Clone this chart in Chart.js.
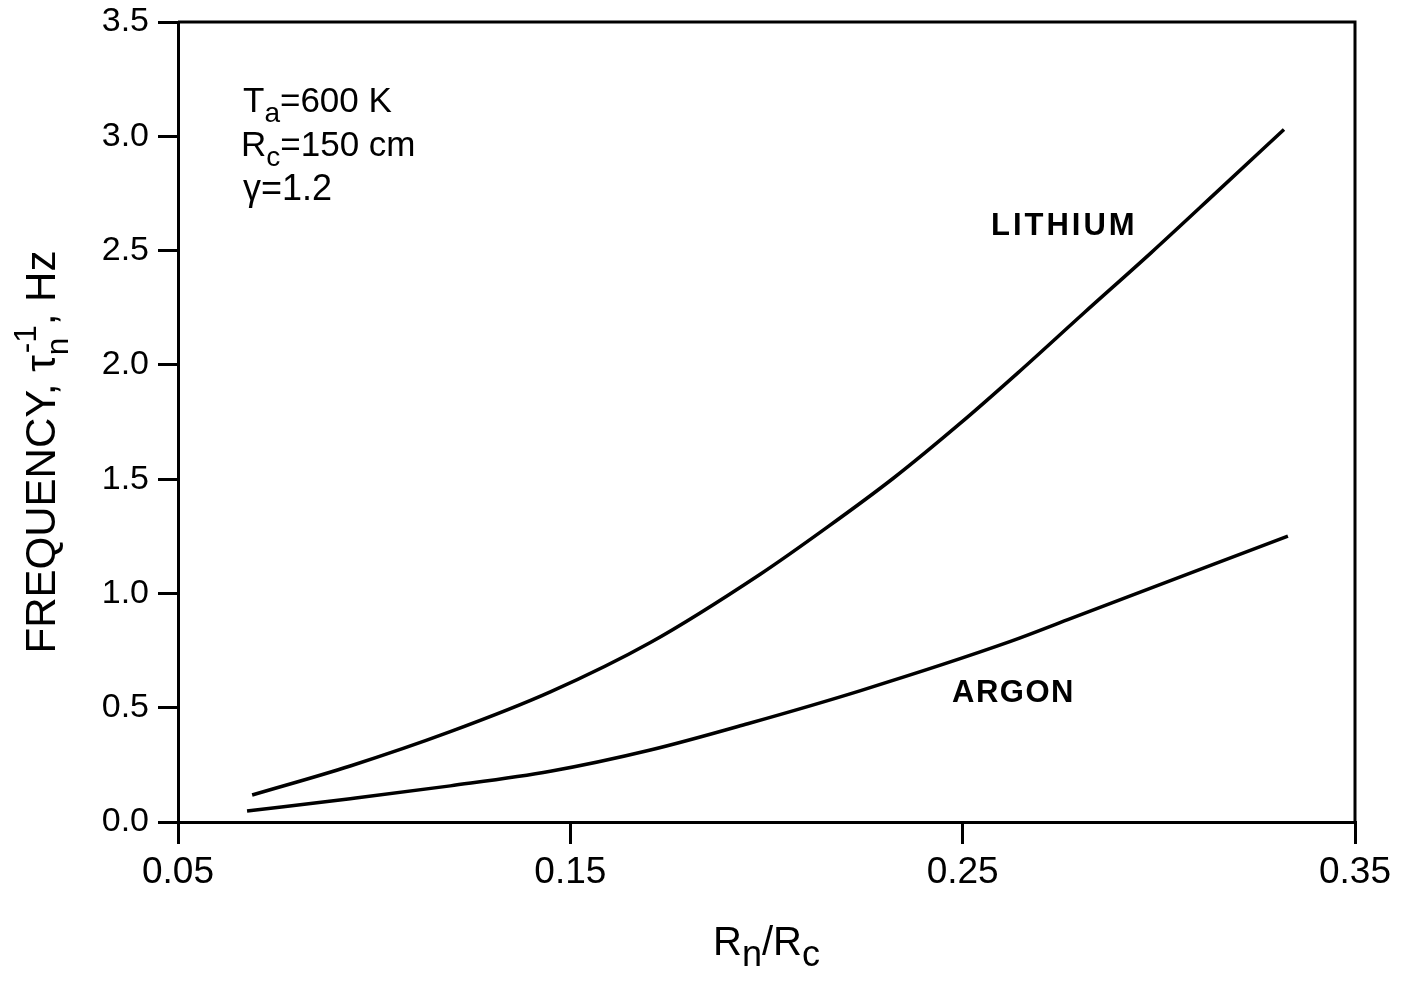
<!DOCTYPE html>
<html>
<head>
<meta charset="utf-8">
<script src="https://cdn.jsdelivr.net/npm/chart.js@4.4.1/dist/chart.umd.min.js"></script>
<style>
  html, body { margin: 0; padding: 0; background: #fff; }
</style>
</head>
<body>
<canvas id="chart" width="1419" height="983"></canvas>
<script>
// values
const lithiumX = [0.0689, 0.0939, 0.1194, 0.1449, 0.1704, 0.1985, 0.2156, 0.2324, 0.2495, 0.2640, 0.2809, 0.2980, 0.3150, 0.3319];
const lithiumY = [0.118, 0.245, 0.395, 0.569, 0.785, 1.085, 1.291, 1.505, 1.746, 1.964, 2.227, 2.490, 2.760, 3.030];
const argonX = [0.0676, 0.0939, 0.1194, 0.1449, 0.1704, 0.1952, 0.2240, 0.2622, 0.2768, 0.3329];
const argonY = [0.048, 0.102, 0.158, 0.222, 0.315, 0.430, 0.575, 0.790, 0.885, 1.251];
const xTicks = [0.05, 0.15, 0.25, 0.35];
const yTicks = [0, 0.5, 1.0, 1.5, 2.0, 2.5, 3.0, 3.5];

const FONT = '"Liberation Sans", Arial, sans-serif';

const toPoints = (xs, ys) => xs.map((x, i) => ({ x: x, y: ys[i] }));

// draw text made of pieces, some of them sub/superscript
function drawPieces(ctx, pieces, x, y, size, small) {
    const s = small || 0.7;
    let cx = x;
    let i = 0;
    while (i < pieces.length) {
        const p = pieces[i];
        if (p.sub && pieces[i + 1] && pieces[i + 1].sup) {
            ctx.font = `${size * s}px ${FONT}`;
            ctx.fillText(p.t, cx, y + size * 0.3);
            const w1 = ctx.measureText(p.t).width;
            ctx.fillText(pieces[i + 1].t, cx + 2, y - size * 0.45);
            const w2 = ctx.measureText(pieces[i + 1].t).width + 2;
            cx += Math.max(w1, w2);
            i += 2;
            continue;
        }
        if (p.sub) {
            ctx.font = `${size * s}px ${FONT}`;
            ctx.fillText(p.t, cx, y + size * 0.28);
        } else if (p.sup) {
            ctx.font = `${size * s}px ${FONT}`;
            ctx.fillText(p.t, cx, y - size * 0.45);
        } else {
            ctx.font = `${size}px ${FONT}`;
            ctx.fillText(p.t, cx, y);
        }
        cx += ctx.measureText(p.t).width;
        i++;
    }
    return cx - x;
}

function piecesWidth(ctx, pieces, size, small) {
    ctx.save();
    ctx.globalAlpha = 0;
    const w = drawPieces(ctx, pieces, 0, 0, size, small);
    ctx.restore();
    return w;
}

const textPlugin = {
    id: 'texts',
    beforeDraw(chart) {
        const ctx = chart.ctx;
        ctx.save();
        ctx.fillStyle = '#fff';
        ctx.fillRect(0, 0, chart.width, chart.height);
        ctx.restore();
    },
    afterDraw(chart) {
        const ctx = chart.ctx;
        const area = chart.chartArea;
        ctx.save();
        ctx.fillStyle = '#000';
        ctx.textBaseline = 'alphabetic';
        ctx.textAlign = 'left';

        // frame top and right
        ctx.strokeStyle = '#000';
        ctx.lineWidth = 3;
        ctx.beginPath();
        ctx.moveTo(area.left, area.top);
        ctx.lineTo(area.right, area.top);
        ctx.lineTo(area.right, area.bottom);
        ctx.stroke();

        // parameters box
        drawPieces(ctx, [{ t: 'T' }, { t: 'a', sub: true }, { t: '=600 K' }], 243, 112, 35, 0.8);
        drawPieces(ctx, [{ t: 'R' }, { t: 'c', sub: true }, { t: '=150 cm' }], 241, 156, 35, 0.8);
        drawPieces(ctx, [{ t: 'γ=1.2' }], 243, 200, 36);

        // curve labels
        ctx.font = `bold 31px ${FONT}`;
        ctx.letterSpacing = '3px';
        ctx.fillText('LITHIUM', 991, 235);
        ctx.letterSpacing = '1.5px';
        ctx.fillText('ARGON', 952, 702);
        ctx.letterSpacing = '0px';

        // x title
        const xt = [{ t: 'R' }, { t: 'n', sub: true }, { t: '/R' }, { t: 'c', sub: true }];
        const xw = piecesWidth(ctx, xt, 40, 0.9);
        drawPieces(ctx, xt, (area.left + area.right) / 2 - xw / 2, 955, 40, 0.9);

        // y title
        const yt = [{ t: 'FREQUENCY, τ' }, { t: 'n', sub: true }, { t: '-1', sup: true }, { t: ', Hz' }];
        const yw = piecesWidth(ctx, yt, 42, 0.75);
        ctx.translate(55, 452);
        ctx.rotate(-Math.PI / 2);
        drawPieces(ctx, yt, -yw / 2, 0, 42, 0.75);
        ctx.restore();
    }
};

new Chart(document.getElementById('chart'), {
    type: 'line',
    data: {
        datasets: [
            {
                label: 'LITHIUM',
                data: toPoints(lithiumX, lithiumY),
                borderColor: '#000',
                borderWidth: 3.5,
                pointRadius: 0,
                cubicInterpolationMode: 'monotone',
                fill: false,
            },
            {
                label: 'ARGON',
                data: toPoints(argonX, argonY),
                borderColor: '#000',
                borderWidth: 3.5,
                pointRadius: 0,
                cubicInterpolationMode: 'monotone',
                fill: false,
            },
        ],
    },
    options: {
        responsive: false,
        animation: false,
        devicePixelRatio: 1,
        layout: { padding: { left: 0, top: 22, right: 64, bottom: 0 } },
        plugins: {
            legend: { display: false },
            tooltip: { enabled: false },
        },
        scales: {
            x: {
                type: 'linear',
                min: 0.05,
                max: 0.35,
                afterBuildTicks: (axis) => { axis.ticks = xTicks.map(v => ({ value: v })); },
                afterFit: (axis) => {
                    axis.height = 161;
                    axis.paddingLeft = 0;
                    axis.paddingRight = 0;
                },
                border: { display: true, color: '#000', width: 3 },
                grid: { drawOnChartArea: false, drawTicks: true, tickLength: 22, color: '#000', lineWidth: 3 },
                ticks: {
                    color: '#000',
                    padding: 7,
                    maxRotation: 0,
                    font: { family: FONT, size: 37 },
                    callback: (v) => v.toFixed(2),
                },
            },
            y: {
                type: 'linear',
                min: 0,
                max: 3.5,
                afterBuildTicks: (axis) => { axis.ticks = yTicks.map(v => ({ value: v })); },
                afterFit: (axis) => {
                    axis.width = 178;
                    axis.paddingTop = 0;
                    axis.paddingBottom = 0;
                },
                border: { display: true, color: '#000', width: 3 },
                grid: { drawOnChartArea: false, drawTicks: true, tickLength: 20, color: '#000', lineWidth: 3 },
                ticks: {
                    color: '#000',
                    padding: 9,
                    font: { family: FONT, size: 34 },
                    callback: (v) => v.toFixed(1),
                },
            },
        },
    },
    plugins: [textPlugin],
});
</script>
</body>
</html>
